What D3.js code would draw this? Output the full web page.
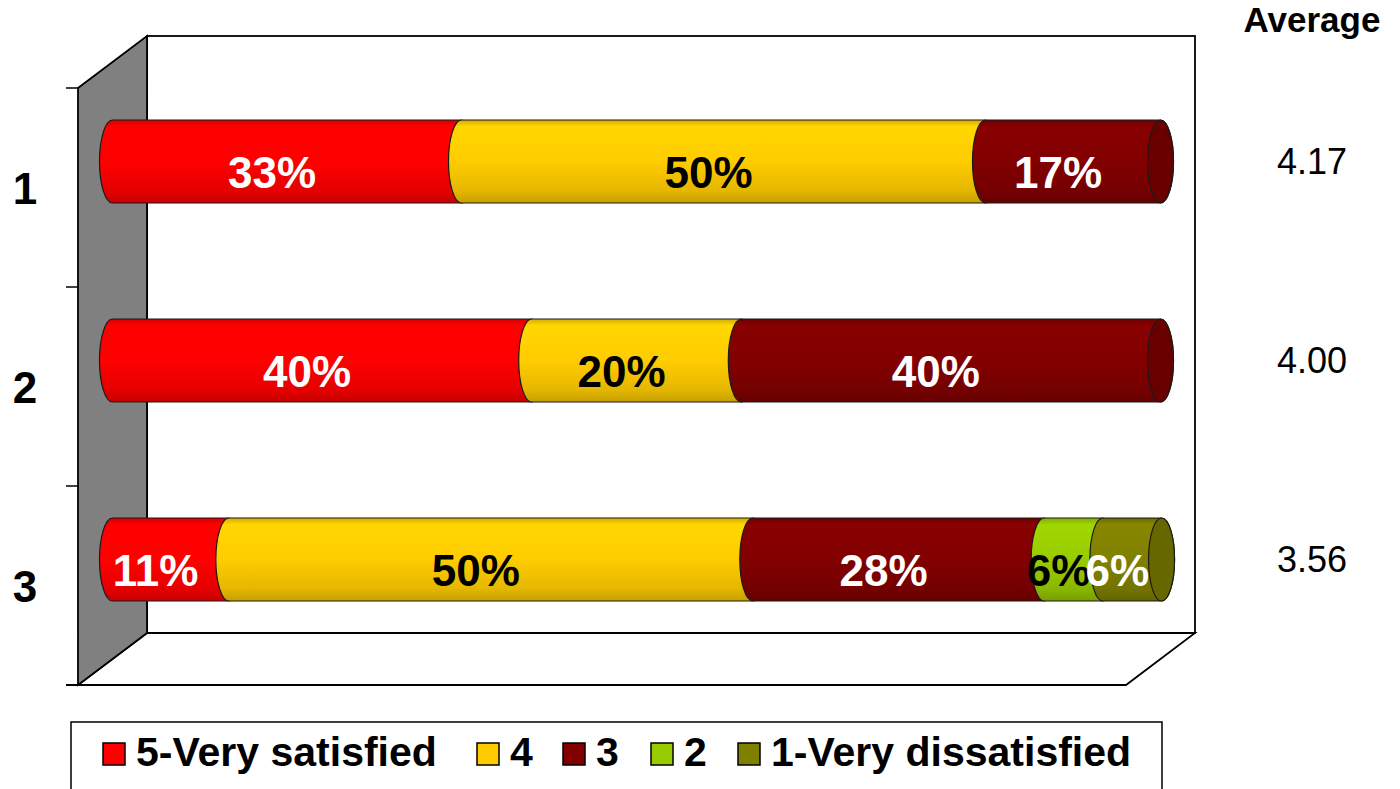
<!DOCTYPE html>
<html>
<head>
<meta charset="utf-8">
<script src="https://cdn.jsdelivr.net/npm/d3@7"></script>
<style>
html,body{margin:0;padding:0;background:#fff;}
svg{display:block;}
text{font-family:"Liberation Sans",Arial,Helvetica,sans-serif;}
</style>
</head>
<body>
<svg id="chart" width="1400" height="789"></svg>
<script>
// ---- data ----
const categories = ["1", "2", "3"];
const seriesNames = ["5-Very satisfied", "4", "3", "2", "1-Very dissatisfied"];
const seriesColors = ["#FF0000", "#FFCC00", "#820000", "#99CC00", "#808000"];
const labelColors = ["#ffffff", "#000000", "#ffffff", "#000000", "#ffffff"];
const verySatisfied = [33.3, 40, 11.1];
const score4 = [50, 20, 50];
const score3 = [16.7, 40, 27.8];
const score2 = [0, 0, 5.6];
const veryDissatisfied = [0, 0, 5.6];
const averages = [4.17, 4.00, 3.56];
const averageTitle = "Average";

const seriesValues = [verySatisfied, score4, score3, score2, veryDissatisfied];
const rows = categories.map((c, i) => {
  const r = { cat: c };
  seriesNames.forEach((s, j) => r[s] = seriesValues[j][i]);
  return r;
});
const stacked = d3.stack().keys(seriesNames)(rows);

// ---- layout ----
const svg = d3.select("#chart");
const front = { left: 78, top: 88, bottom: 685, right: 1126 };
const depth = { dx: 69, dy: 52 };
const mid = { dx: depth.dx / 2, dy: depth.dy / 2 };

const y = d3.scaleBand().domain(categories).range([front.top, front.bottom]);
const x = d3.scaleLinear().domain([0, 100]).range([front.left + mid.dx, front.right + mid.dx]);
const barH = 83, ry = barH / 2, rx = 13;

const defs = svg.append("defs");
seriesColors.forEach((col, i) => {
  const c = d3.color(col);
  const g = defs.append("linearGradient").attr("id", "g" + i)
    .attr("x1", 0).attr("y1", 0).attr("x2", 0).attr("y2", 1);
  g.append("stop").attr("offset", "0%").attr("stop-color", c.darker(0.5));
  g.append("stop").attr("offset", "8%").attr("stop-color", c.brighter(0.15));
  g.append("stop").attr("offset", "50%").attr("stop-color", c);
  g.append("stop").attr("offset", "85%").attr("stop-color", c.darker(0.3));
  g.append("stop").attr("offset", "100%").attr("stop-color", c.darker(0.7));
});

// back wall
const bl = front.left + depth.dx, bt = front.top - depth.dy, bb = front.bottom - depth.dy, br = front.right + depth.dx;
svg.append("rect").attr("x", bl).attr("y", bt).attr("width", br - bl).attr("height", bb - bt)
  .attr("fill", "#fff").attr("stroke", "#000").attr("stroke-width", 1.8);
// floor
svg.append("path")
  .attr("d", `M${bl},${bb} L${br},${bb} L${front.right},${front.bottom} L${front.left},${front.bottom} Z`)
  .attr("fill", "#fff").attr("stroke", "#000").attr("stroke-width", 1.8);
// left wall
svg.append("path")
  .attr("d", `M${front.left},${front.top} L${bl},${bt} L${bl},${bb} L${front.left},${front.bottom} Z`)
  .attr("fill", "#808080").attr("stroke", "#000").attr("stroke-width", 1.8);

// ticks on the category axis
const bounds = categories.map(c => y(c)).concat([front.bottom]);
svg.append("g").selectAll("line").data(bounds).join("line")
  .attr("x1", front.left - 12).attr("x2", front.left)
  .attr("y1", d => d).attr("y2", d => d)
  .attr("stroke", "#000").attr("stroke-width", 1.5);
svg.append("line").attr("x1", front.left - 12).attr("x2", front.right)
  .attr("y1", front.bottom).attr("y2", front.bottom).attr("stroke", "#000").attr("stroke-width", 1.8);

// category labels
svg.append("g").selectAll("text").data(categories).join("text")
  .attr("x", 25).attr("y", d => y(d) + y.bandwidth() / 2 + 16)
  .attr("text-anchor", "middle").attr("font-size", 44).attr("font-weight", "bold")
  .attr("fill", "#000").text(d => d);

// bars
const cy = c => y(c) + y.bandwidth() / 2 - mid.dy;
const segPath = (x0, x1, c) => {
  const t = cy(c) - ry, b = cy(c) + ry;
  return `M${x0},${t} L${x1},${t} A${rx},${ry} 0 0 1 ${x1},${b} L${x0},${b} A${rx},${ry} 0 0 1 ${x0},${t} Z`;
};
const barsG = svg.append("g");
categories.forEach((c, ci) => {
  const segs = stacked.map((s, si) => ({ si, x0: s[ci][0], x1: s[ci][1], v: s[ci][1] - s[ci][0], c }))
    .filter(d => d.v > 0);
  segs.forEach(d => {
    barsG.append("path").attr("d", segPath(x(d.x0), x(d.x1), c))
      .attr("fill", `url(#g${d.si})`).attr("stroke", "#1a1a1a").attr("stroke-width", 1.2);
  });
  const last = segs[segs.length - 1];
  barsG.append("ellipse").attr("cx", x(last.x1)).attr("cy", cy(c)).attr("rx", rx).attr("ry", ry)
    .attr("fill", d3.color(seriesColors[last.si]).darker(0.6)).attr("stroke", "#1a1a1a").attr("stroke-width", 1.2);
  segs.forEach(d => {
    barsG.append("text")
      .attr("x", (x(d.x0) + x(d.x1)) / 2 - 15).attr("y", cy(c) + 26)
      .attr("text-anchor", "middle").attr("font-size", 44).attr("font-weight", "bold")
      .attr("fill", labelColors[d.si]).text(d3.format(".0f")(d.v) + "%");
  });
});

// averages
svg.append("text").attr("x", 1312).attr("y", 32).attr("text-anchor", "middle")
  .attr("font-size", 35).attr("font-weight", "bold").attr("fill", "#000").text(averageTitle);
svg.append("g").selectAll("text").data(averages).join("text")
  .attr("x", 1312).attr("y", (d, i) => cy(categories[i]) + 12)
  .attr("text-anchor", "middle").attr("font-size", 36).attr("fill", "#000")
  .text(d => d3.format(".2f")(d));

// legend
svg.append("rect").attr("x", 71).attr("y", 722).attr("width", 1091).attr("height", 80)
  .attr("fill", "#fff").attr("stroke", "#000").attr("stroke-width", 1.5);
const legendX = [103, 477, 563, 651, 738];
seriesNames.forEach((s, i) => {
  svg.append("rect").attr("x", legendX[i]).attr("y", 743).attr("width", 22).attr("height", 22)
    .attr("fill", seriesColors[i]).attr("stroke", "#000").attr("stroke-width", 1.5);
  svg.append("text").attr("x", legendX[i] + 33).attr("y", 766)
    .attr("font-size", 41).attr("font-weight", "bold").attr("fill", "#000").text(s);
});
</script>
</body>
</html>
